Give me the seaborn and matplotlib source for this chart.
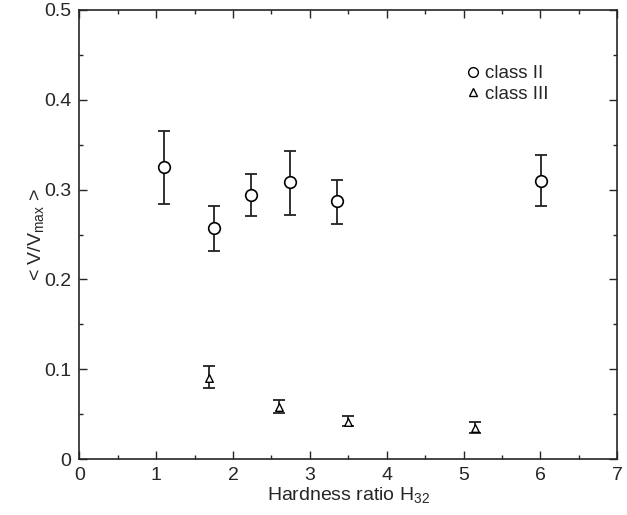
import matplotlib
matplotlib.use("Agg")
import matplotlib.pyplot as plt
from matplotlib.lines import Line2D
from matplotlib.ticker import MultipleLocator
import seaborn as sns
import pandas as pd

# class II
h2 = [1.107, 1.752, 2.233, 2.745, 3.348, 6.007]
v2 = [0.325, 0.257, 0.294, 0.308, 0.287, 0.310]
v2_lo = [0.284, 0.232, 0.271, 0.272, 0.262, 0.282]
v2_hi = [0.365, 0.282, 0.317, 0.343, 0.311, 0.338]

# class III
h3 = [1.683, 2.602, 3.500, 5.149]
v3 = [0.090, 0.058, 0.0415, 0.034]
v3_lo = [0.079, 0.0515, 0.037, 0.029]
v3_hi = [0.104, 0.066, 0.048, 0.041]

xticks = [0, 1, 2, 3, 4, 5, 6, 7]
xtick_labels = ['0', '1', '2', '3', '4', '5', '6', '7']
yticks = [0, 0.1, 0.2, 0.3, 0.4, 0.5]
ytick_labels = ['0', '0.1', '0.2', '0.3', '0.4', '0.5']

sns.set_style("ticks")
plt.rcParams['font.family'] = ['Liberation Sans', 'DejaVu Sans']
plt.rcParams['mathtext.fontset'] = 'custom'
plt.rcParams['mathtext.rm'] = 'Liberation Sans'

fig = plt.figure(figsize=(6.27, 5.15), dpi=100)
ax = fig.add_axes([0.1266, 0.1087, 0.8579, 0.8719])

df2 = pd.DataFrame({"h": h2, "v": v2})
df3 = pd.DataFrame({"h": h3, "v": v3})

ax.errorbar(h2, v2, yerr=[[a - b for a, b in zip(v2, v2_lo)], [b - a for a, b in zip(v2, v2_hi)]],
            fmt='none', ecolor='#222222', elinewidth=1.3, capsize=4, capthick=1.3, zorder=2)
ax.errorbar(h3, v3, yerr=[[a - b for a, b in zip(v3, v3_lo)], [b - a for a, b in zip(v3, v3_hi)]],
            fmt='none', ecolor='#222222', elinewidth=1.3, capsize=4, capthick=1.3, zorder=2)

sns.scatterplot(data=df2, x="h", y="v", marker='o', s=70, facecolor='white',
                edgecolor='black', linewidth=1.2, ax=ax, zorder=3)
sns.scatterplot(data=df3, x="h", y="v", marker='^', s=30, facecolor='white',
                edgecolor='black', linewidth=1.0, ax=ax, zorder=3)

ax.set_xlim(0, 7)
ax.set_ylim(0, 0.5)
ax.set_xticks(xticks)
ax.set_xticklabels(xtick_labels)
ax.set_yticks(yticks)
ax.set_yticklabels(ytick_labels)
ax.xaxis.set_minor_locator(MultipleLocator(0.5))
ax.yaxis.set_minor_locator(MultipleLocator(0.05))
ax.tick_params(which='both', direction='in', top=True, right=True, labelsize=14, width=1)
ax.tick_params(which='major', length=6, pad=6)
ax.tick_params(which='minor', length=3)
for s in ax.spines.values():
    s.set_linewidth(1.2)

ax.set_xlabel(r'Hardness ratio H$_{32}$', fontsize=14, labelpad=1)
ax.set_ylabel(r'< V/V$_{\mathrm{max}}$ >', fontsize=14, labelpad=-2)

handles = [Line2D([], [], marker='o', ls='none', mfc='white', mec='black', ms=7, mew=1.0),
           Line2D([], [], marker='^', ls='none', mfc='white', mec='black', ms=6, mew=1.0)]
ax.legend(handles, ['class II', 'class III'], loc='upper left', bbox_to_anchor=(0.68, 0.915),
          frameon=False, fontsize=13.5, handletextpad=0.05, handlelength=1.2, labelspacing=0.2)

fig.savefig("out.png", dpi=100)
